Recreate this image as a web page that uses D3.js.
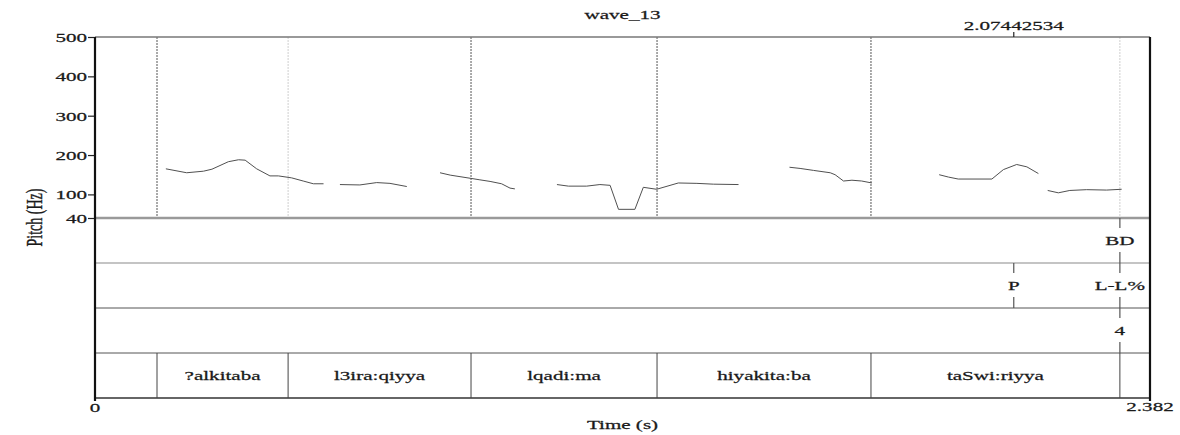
<!DOCTYPE html>
<html>
<head>
<meta charset="utf-8">
<script src="https://cdn.jsdelivr.net/npm/d3@7"></script>
<style>
  html, body { margin: 0; padding: 0; background: #fff; }
  svg { display: block; }
  text { font-family: "Liberation Serif", "Times New Roman", serif; font-size: 13px; fill: #1a1a1a; stroke: #1a1a1a; stroke-width: 0.25px; }
</style>
</head>
<body>
<svg id="chart" width="1180" height="435"></svg>
<script>
// ---- data -------------------------------------------------------------
const title = "wave_13";
const timeRange = [0, 2.382];
const pitchRange = [40, 500];
const pitchTicks = [40, 100, 200, 300, 400, 500];
const cursorTime = 2.07442534;

// F0 contour pieces: [time (s), pitch (Hz)]
const contour1 = [[0.160,165],[0.207,155],[0.245,159],[0.264,164],[0.301,183],[0.324,188],[0.339,187],
                  [0.365,165],[0.395,147],[0.414,147],[0.444,142],[0.470,134],[0.493,127],[0.516,127]];
const contour2 = [[0.553,125],[0.598,124],[0.636,130],[0.666,128],[0.704,120]];
const contour3 = [[0.779,155],[0.802,149],[0.847,141],[0.869,137],[0.892,133],[0.918,127],[0.937,116],[0.948,114]];
const contour4 = [[1.043,125],[1.069,121],[1.110,121],[1.140,125],[1.163,123],[1.182,62],[1.219,62],
                  [1.238,118],[1.268,113],[1.317,129],[1.359,128],[1.396,126],[1.453,125]];
const contour5 = [[1.568,169],[1.592,166],[1.622,161],[1.660,155],[1.671,150],[1.690,134],[1.709,136],
                  [1.731,134],[1.754,129]];
const contour6 = [[1.906,150],[1.927,144],[1.949,139],[2.025,139],[2.051,163],[2.081,176],[2.104,170],[2.130,153]];
const contour7 = [[2.151,110],[2.175,104],[2.201,110],[2.239,112],[2.284,111],[2.318,113]];

// word tier
const wordBounds = [0.140, 0.436, 0.849, 1.269, 1.752, 2.314];
const words = ["?alkitaba", "l3ira:qiyya", "lqadi:ma", "hiyakita:ba", "taSwi:riyya"];

// point tiers
const bdTimes = [2.314];
const bdLabels = ["BD"];
const toneTimes = [2.0744, 2.314];
const toneLabels = ["P", "L-L%"];
const breakTimes = [2.314];
const breakLabels = ["4"];

// ---- layout -------------------------------------------------------------
const svg = d3.select("#chart");
const plotL = 95, plotR = 1150, plotT = 37, pitchBottom = 218;
const tierH = 45, nTiers = 4;
const plotB = pitchBottom + tierH * nTiers;
const SX = 1.62; // horizontal stretch of the lettering

const x = d3.scaleLinear().domain(timeRange).range([plotL, plotR]);
const y = d3.scaleLinear().domain(pitchRange).range([pitchBottom, plotT]);

function stretchText(g, px, py, str, anchor) {
  return g.append("text")
    .attr("transform", `translate(${px},${py}) scale(${SX},1)`)
    .attr("text-anchor", anchor || "middle")
    .text(str);
}

// tier boundaries drawn dotted through the pitch pane
const faintMarks = new Set([1, 5]);
svg.append("g").selectAll("line").data(wordBounds).join("line")
  .attr("x1", d => x(d)).attr("x2", d => x(d))
  .attr("y1", plotT).attr("y2", pitchBottom)
  .attr("stroke", (d, i) => faintMarks.has(i) ? "#cfcfcf" : "#555")
  .attr("stroke-width", 1)
  .attr("stroke-dasharray", "2,1");

// pitch contour
const line = d3.line().x(d => x(d[0])).y(d => y(d[1]));
svg.append("g").selectAll("path")
  .data([contour1, contour2, contour3, contour4, contour5, contour6, contour7])
  .join("path")
  .attr("d", line)
  .attr("fill", "none")
  .attr("stroke", "#505050")
  .attr("stroke-width", 1);

// frame lines
svg.append("line").attr("x1", plotL).attr("x2", plotR).attr("y1", plotT).attr("y2", plotT)
  .attr("stroke", "#777").attr("stroke-width", 1.5);
const tierLineColors = ["#9a9a9a", "#b0b0b0", "#555", "#555", "#333"];
const tierLineWidths = [2.5, 1.5, 1, 1, 1.5];
d3.range(nTiers + 1).forEach(i => {
  svg.append("line")
    .attr("x1", plotL).attr("x2", plotR)
    .attr("y1", pitchBottom + i * tierH).attr("y2", pitchBottom + i * tierH)
    .attr("stroke", tierLineColors[i]).attr("stroke-width", tierLineWidths[i]);
});

// word tier intervals
const wordTop = pitchBottom + 3 * tierH;
svg.append("g").selectAll("line").data(wordBounds).join("line")
  .attr("x1", d => x(d)).attr("x2", d => x(d))
  .attr("y1", wordTop).attr("y2", plotB)
  .attr("stroke", "#444").attr("stroke-width", 1);
const wordG = svg.append("g");
words.forEach((w, i) => {
  stretchText(wordG, (x(wordBounds[i]) + x(wordBounds[i + 1])) / 2, wordTop + tierH / 2 + 4, w);
});

// point tiers
function pointTier(times, labels, tierIndex) {
  const t0 = pitchBottom + tierIndex * tierH;
  const g = svg.append("g");
  times.forEach((t, i) => {
    const px = x(t);
    g.append("line").attr("x1", px).attr("x2", px).attr("y1", t0).attr("y2", t0 + 10)
      .attr("stroke", "#555").attr("stroke-width", 1.2);
    g.append("line").attr("x1", px).attr("x2", px).attr("y1", t0 + tierH - 11).attr("y2", t0 + tierH)
      .attr("stroke", "#555").attr("stroke-width", 1.2);
    stretchText(g, px, t0 + tierH / 2 + 4, labels[i]);
  });
}
pointTier(bdTimes, bdLabels, 0);
pointTier(toneTimes, toneLabels, 1);
pointTier(breakTimes, breakLabels, 2);

// pitch axis
const yAxis = d3.axisLeft(y).tickValues(pitchTicks).tickSize(7).tickFormat(d3.format("d"));
const yg = svg.append("g").attr("transform", `translate(${plotL},0)`).call(yAxis);
yg.select(".domain").remove();
yg.selectAll(".tick line").attr("stroke", "#222").attr("stroke-width", 1.2);
yg.selectAll(".tick text")
  .attr("x", null).attr("dy", null)
  .attr("transform", `translate(-8,4.5) scale(${SX},1)`)
  .attr("text-anchor", "end")
  .style("font-family", "Liberation Serif, serif").style("font-size", "13px").style("fill", "#1a1a1a");

// left and right edges
svg.append("line").attr("x1", plotL).attr("x2", plotL).attr("y1", plotT).attr("y2", plotB + 3)
  .attr("stroke", "#111").attr("stroke-width", 2.2);
svg.append("line").attr("x1", plotR).attr("x2", plotR).attr("y1", plotT).attr("y2", plotB + 3)
  .attr("stroke", "#111").attr("stroke-width", 2.2);

// time axis end labels
const xAxisG = svg.append("g");
stretchText(xAxisG, x(timeRange[0]), plotB + 14, "0");
stretchText(xAxisG, x(timeRange[1]), plotB + 13, String(timeRange[1]));
stretchText(xAxisG, (plotL + plotR) / 2, 429, "Time (s)");

// y title
svg.append("text")
  .attr("transform", `translate(42,${(plotT + plotB) / 2}) rotate(-90) scale(1,${SX})`)
  .attr("text-anchor", "middle")
  .style("font-size", "14px")
  .text("Pitch (Hz)");

// title and cursor readout
stretchText(svg, (plotL + plotR) / 2, 19, title);
svg.append("line").attr("x1", x(cursorTime)).attr("x2", x(cursorTime)).attr("y1", plotT - 5).attr("y2", plotT)
  .attr("stroke", "#222").attr("stroke-width", 1.2);
stretchText(svg, x(cursorTime), 30, cursorTime.toFixed(8));
</script>
</body>
</html>
